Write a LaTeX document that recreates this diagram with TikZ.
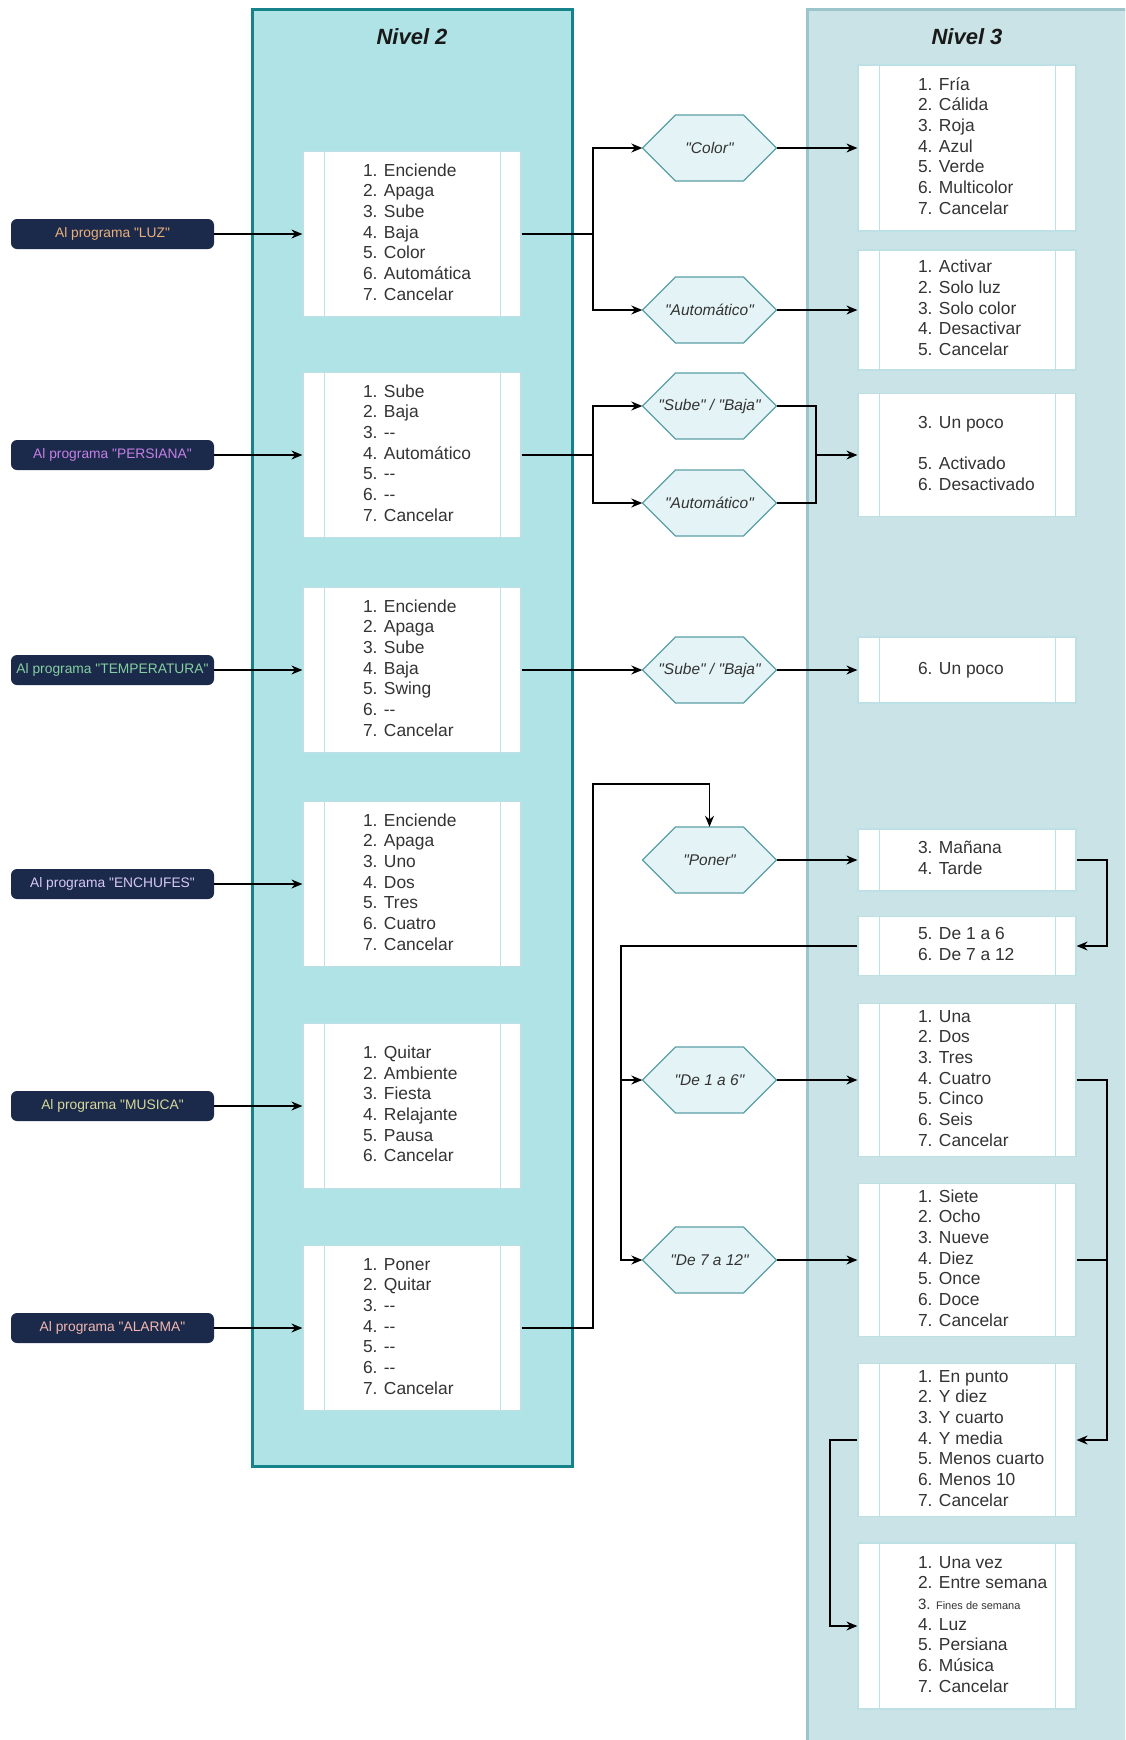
\documentclass[tikz,border=0pt]{standalone}
\usepackage{fontspec}
\setmainfont{Liberation Sans}[Ligatures=TeXOff]
\usetikzlibrary{arrows.meta,calc}
\definecolor{navy}{HTML}{1B2A4A}
\definecolor{ctwofill}{HTML}{B0E3E6}
\definecolor{ctwodraw}{HTML}{16838A}
\definecolor{cthreefill}{HTML}{CAE3E6}
\definecolor{cthreedraw}{HTML}{9CC4CB}
\definecolor{boxc}{HTML}{BCE0E4}
\definecolor{hexfill}{HTML}{E4F3F5}
\definecolor{hexdraw}{HTML}{5A9FA6}
\definecolor{txt}{HTML}{333333}
\definecolor{cluz}{HTML}{E9B07C}
\definecolor{cper}{HTML}{C57FE6}
\definecolor{ctem}{HTML}{86CFA2}
\definecolor{cenc}{HTML}{D8C8F5}
\definecolor{cmus}{HTML}{D6D89A}
\definecolor{cala}{HTML}{F2B7B0}
\newcommand{\itemsbox}[1]{\makebox[98pt][l]{\begin{tabular}{@{}l@{}}#1\end{tabular}}}
\newcommand{\hexat}[4]{%
  \draw[hexline] (#2-67,#3) -- (#2-34,#3-33) -- (#2+34,#3-33) -- (#2+67,#3) -- (#2+34,#3+33) -- (#2-34,#3+33) -- cycle;
  \node[hexsty] (#1) at (#2,#3) {#4};}
\tikzset{
  pill/.style={fill=navy, rounded corners=6pt, minimum width=203pt, minimum height=30pt, inner sep=0pt,
    font=\fontsize{13.8}{15}\selectfont},
  lbox/.style={draw=boxc, fill=white, line width=1.2pt, inner xsep=60pt, inner ysep=0pt,
    minimum width=218pt, text=txt, font=\fontsize{17.4}{20.7}\selectfont,
    path picture={\draw[boxc, line width=1pt]
      ([xshift=21pt]path picture bounding box.north west) -- ([xshift=21pt]path picture bounding box.south west)
      ([xshift=-21pt]path picture bounding box.north east) -- ([xshift=-21pt]path picture bounding box.south east);}},
  hexline/.style={fill=hexfill, draw=hexdraw, line width=1.3pt},
  hexsty/.style={shape=rectangle, draw=none, minimum width=134pt, minimum height=66pt, inner sep=0pt,
    text=txt, font=\fontsize{15.5}{18}\selectfont\itshape},
  title/.style={font=\fontsize{22}{26}\selectfont\bfseries\itshape, text=black!90},
  conn/.style={line width=1.3pt, black},
  arr/.style={conn, -{Stealth[length=11pt,width=9pt]}},
}
\begin{document}
\begin{tikzpicture}[x=1pt,y=-1pt]
\useasboundingbox (0,0) rectangle (1125,1740);
\clip (0,0) rectangle (1125,1740);
\fill[white] (0,0) rectangle (1125,1740);
% containers
\draw[fill=ctwofill, draw=ctwodraw, line width=3pt] (252,9) rectangle (572,1466);
\draw[fill=cthreefill, draw=cthreedraw, line width=3pt] (807,9) rectangle (1150,1770);
\node[title] (t2) at (412,37) {Nivel 2};
\node[title] (t3) at (967,37) {Nivel 3};
% program pills
\node[pill, text=cluz] (pLUZ) at (112.5,234) {Al programa "LUZ"};
\node[pill, text=cper] (pPER) at (112.5,455) {Al programa "PERSIANA"};
\node[pill, text=ctem] (pTEM) at (112.5,670) {Al programa "TEMPERATURA"};
\node[pill, text=cenc] (pENC) at (112.5,884) {Al programa "ENCHUFES"};
\node[pill, text=cmus] (pMUS) at (112.5,1106) {Al programa "MUSICA"};
\node[pill, text=cala] (pALA) at (112.5,1328) {Al programa "ALARMA"};
% level 2 boxes
\node[lbox, minimum height=165pt] (bLUZ) at (412,234) {\itemsbox{1. Enciende\\2. Apaga\\3. Sube\\4. Baja\\5. Color\\6. Automática\\7. Cancelar}};
\node[lbox, minimum height=165pt] (bPER) at (412,455) {\itemsbox{1. Sube\\2. Baja\\3. --\\4. Automático\\5. --\\6. --\\7. Cancelar}};
\node[lbox, minimum height=165pt] (bTEM) at (412,670) {\itemsbox{1. Enciende\\2. Apaga\\3. Sube\\4. Baja\\5. Swing\\6. --\\7. Cancelar}};
\node[lbox, minimum height=165pt] (bENC) at (412,884) {\itemsbox{1. Enciende\\2. Apaga\\3. Uno\\4. Dos\\5. Tres\\6. Cuatro\\7. Cancelar}};
\node[lbox, minimum height=165pt] (bMUS) at (412,1106) {\itemsbox{1. Quitar\\2. Ambiente\\3. Fiesta\\4. Relajante\\5. Pausa\\6. Cancelar}};
\node[lbox, minimum height=165pt] (bALA) at (412,1328) {\itemsbox{1. Poner\\2. Quitar\\3. --\\4. --\\5. --\\6. --\\7. Cancelar}};
% level 3 boxes
\node[lbox, minimum height=166pt] (bFria) at (967,148) {\itemsbox{1. Fría\\2. Cálida\\3. Roja\\4. Azul\\5. Verde\\6. Multicolor\\7. Cancelar}};
\node[lbox, minimum height=120pt] (bAct) at (967,310) {\itemsbox{1. Activar\\2. Solo luz\\3. Solo color\\4. Desactivar\\5. Cancelar}};
\node[lbox, minimum height=123pt] (bPoco) at (967,455) {\itemsbox{3. Un poco\\ \\5. Activado\\6. Desactivado}};
\node[lbox, minimum height=66pt] (bPocoT) at (967,670) {\itemsbox{6. Un poco}};
\node[lbox, minimum height=62pt] (bMan) at (967,860) {\itemsbox{3. Mañana\\4. Tarde}};
\node[lbox, minimum height=59pt] (bDe) at (967,946) {\itemsbox{5. De 1 a 6\\6. De 7 a 12}};
\node[lbox, minimum height=153pt] (bUna) at (967,1080) {\itemsbox{1. Una\\2. Dos\\3. Tres\\4. Cuatro\\5. Cinco\\6. Seis\\7. Cancelar}};
\node[lbox, minimum height=153pt] (bSiete) at (967,1260) {\itemsbox{1. Siete\\2. Ocho\\3. Nueve\\4. Diez\\5. Once\\6. Doce\\7. Cancelar}};
\node[lbox, minimum height=153pt] (bPunto) at (967,1440) {\itemsbox{1. En punto\\2. Y diez\\3. Y cuarto\\4. Y media\\5. Menos cuarto\\6. Menos 10\\7. Cancelar}};
\node[lbox, minimum height=166pt] (bVez) at (967,1626) {\itemsbox{1. Una vez\\2. Entre semana\\{\fontsize{15}{20.7}\selectfont 3. }{\fontsize{11}{20.7}\selectfont Fines de semana}\\4. Luz\\5. Persiana\\6. Música\\7. Cancelar}};
% hexagons
\hexat{hColor}{709.5}{148}{"Color"}
\hexat{hAuto}{709.5}{310}{"Automático"}
\hexat{hSB}{709.5}{406}{"Sube" / "Baja"}
\hexat{hAutoP}{709.5}{503}{"Automático"}
\hexat{hSBT}{709.5}{670}{"Sube" / "Baja"}
\hexat{hPoner}{709.5}{860}{"Poner"}
\hexat{hDe1}{709.5}{1080}{"De 1 a 6"}
\hexat{hDe7}{709.5}{1260}{"De 7 a 12"}
% routing columns
\coordinate (colA) at (593,0);
\coordinate (colB) at (816,0);
\coordinate (colL) at (621,0);
\coordinate (colM) at (830,0);
\coordinate (colR) at (1107,0);
\coordinate (kA) at (593,784);
% pills to level 2
\draw[arr] (pLUZ.east) -- (bLUZ.west);
\draw[arr] (pPER.east) -- (bPER.west);
\draw[arr] (pTEM.east) -- (bTEM.west);
\draw[arr] (pENC.east) -- (bENC.west);
\draw[arr] (pMUS.east) -- (bMUS.west);
\draw[arr] (pALA.east) -- (bALA.west);
% LUZ
\draw[arr] (bLUZ.east) -- (bLUZ.east -| colA) |- (hColor.west);
\draw[arr] (bLUZ.east -| colA) |- (hAuto.west);
\draw[arr] (hColor.east) -- (bFria.west);
\draw[arr] (hAuto.east) -- (bAct.west);
% PERSIANA
\draw[arr] (bPER.east) -- (bPER.east -| colA) |- (hSB.west);
\draw[arr] (bPER.east -| colA) |- (hAutoP.west);
\draw[conn] (hSB.east) -- (hSB.east -| colB) |- (hAutoP.east);
\draw[arr] (bPoco.west -| colB) -- (bPoco.west);
% TEMPERATURA
\draw[arr] (bTEM.east) -- (hSBT.west);
\draw[arr] (hSBT.east) -- (bPocoT.west);
% ALARMA
\draw[arr] (bALA.east) -| (kA) -| (hPoner.north);
\draw[arr] (hPoner.east) -- (bMan.west);
\draw[arr] (bMan.east) -- (bMan.east -| colR) |- (bDe.east);
\draw[arr] (bDe.west) -- (bDe.west -| colL) |- (hDe1.west);
\draw[arr] (bDe.west -| colL) |- (hDe7.west);
\draw[arr] (hDe1.east) -- (bUna.west);
\draw[arr] (hDe7.east) -- (bSiete.west);
\draw[arr] (bUna.east) -- (bUna.east -| colR) |- (bPunto.east);
\draw[conn] (bSiete.east) -- (bSiete.east -| colR);
\draw[arr] (bPunto.west) -- (bPunto.west -| colM) |- (bVez.west);
\end{tikzpicture}
\end{document}
